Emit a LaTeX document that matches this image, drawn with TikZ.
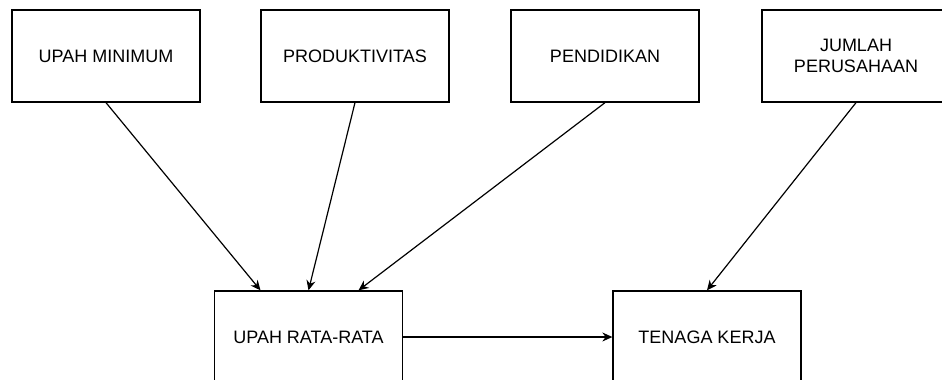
\documentclass[tikz,border=0pt]{standalone}
\usepackage{fontspec}
\setmainfont{Liberation Sans}
\usepackage{tikz}
\usetikzlibrary{arrows.meta, calc}

\begin{document}
\begin{tikzpicture}[
    x=0.5pt, y=-0.5pt,
    font=\fontsize{9}{10.5}\selectfont,
    factor/.style={draw=black, line width=0.65pt, fill=white,
                   minimum width=94pt, minimum height=46pt,
                   inner sep=0pt, align=center},
    flow/.style={-{Stealth[length=5pt, width=4.5pt]}, draw=black, line width=0.6pt},
  ]
  \useasboundingbox (0,0) rectangle (942,380);
  \clip (0,0) rectangle (942,380);
  % variabel bebas
  \node[factor] (upahmin) at (106,56) {UPAH MINIMUM};
  \node[factor] (produk) at (355,56) {PRODUKTIVITAS};
  \node[factor] (didik) at (605,56) {PENDIDIKAN};
  \node[factor] (jumlah) at (856,56) {JUMLAH\\PERUSAHAAN};
  % variabel terikat
  \node[factor] (upahrata) at (308.5,337) {UPAH RATA-RATA};
  \node[factor] (tenaga) at (707,337) {TENAGA KERJA};
  \draw[flow] (upahmin.south) -- ($(upahrata.north)+(-48,0)$);
  \draw[flow] (produk.south) -- (upahrata.north);
  \draw[flow] (didik.south) -- ($(upahrata.north)+(50,0)$);
  \draw[flow] (jumlah.south) -- (tenaga.north);
  \draw[flow] (upahrata) -- (tenaga);
\end{tikzpicture}
\end{document}
